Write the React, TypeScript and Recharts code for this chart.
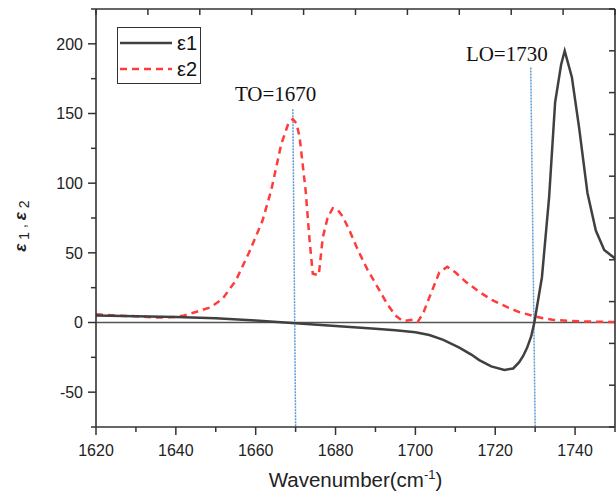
import React from "react";
import {
  LineChart, Line, XAxis, YAxis, ReferenceLine, ReferenceDot, Legend, Label,
} from "recharts";

const EPS1_X = [
  1620, 1630, 1640, 1650, 1660, 1670, 1680, 1690, 1695, 1700, 1703.5, 1707, 1711, 1714,
  1716, 1719, 1722.3, 1724.5, 1726, 1727, 1728, 1729, 1729.8, 1731.7, 1733.5, 1735,
  1736.5, 1737.4, 1739.2, 1741, 1743.1, 1745.2, 1747.3, 1750,
];
const EPS1_Y = [
  5, 4.5, 4, 3, 1.5, -0.5, -2.5, -4.5, -5.5, -7, -9, -12.5, -18, -23,
  -27, -31.5, -34, -33, -28.5, -24, -18, -10, 0, 32.5, 90, 158,
  185, 195, 176, 140, 93, 66, 52, 46,
];

// ε2 (imaginary part)
const EPS2_X = [
  1620, 1625, 1630, 1635, 1640, 1642, 1645, 1648.75, 1651.7, 1655, 1658.3, 1661.7, 1663.9,
  1666.4, 1668.2, 1669.3, 1670.2, 1671, 1672.5, 1673.5, 1674.3, 1675.8, 1676.8, 1678,
  1679.3, 1680.5, 1681.8, 1683.5, 1685.6, 1688, 1691, 1693, 1695, 1696.8, 1698, 1699.3,
  1700.6, 1702, 1703.5, 1706, 1708, 1710, 1712.7, 1716, 1719.3, 1723, 1726, 1729.8,
  1732, 1734.3, 1738, 1742, 1746, 1750,
];
const EPS2_Y = [
  6, 5, 4.5, 3.5, 4, 5, 7.5, 11, 17, 30, 50, 73, 95,
  128, 143, 146, 143, 133, 95, 59, 35, 34, 61, 75,
  82, 81, 76, 66, 52, 38, 23, 13, 5, 1, 1.5, 2,
  0.5, 7, 18, 36, 40, 36, 29, 22, 16, 11, 7.5, 4.5,
  3, 2, 1.2, 0.8, 0.5, 0.3,
];

const X_TICKS = [1620, 1640, 1660, 1680, 1700, 1720, 1740];
const X_MINOR = [1630, 1650, 1670, 1690, 1710, 1730, 1750];
const Y_TICKS = [-50, 0, 50, 100, 150, 200];
const Y_MINOR = [-75, -25, 25, 75, 125, 175, 225];
// top / right frame carry their own evenly spaced unlabelled ticks
const FRAME_TICKS = [0, 1, 2, 3, 4, 5, 6, 7, 8, 9, 10];

const TO_LINE = [{ x: 1669.3, y: 153 }, { x: 1670, y: -75 }];
const LO_LINE = [{ x: 1728.9, y: 183 }, { x: 1730, y: -75 }];

const eps1 = EPS1_X.map((x, i) => ({ x, y: EPS1_Y[i] }));
const eps2 = EPS2_X.map((x, i) => ({ x, y: EPS2_Y[i] }));
const frame = [{ t: 0, v: 0 }, { t: 10, v: 10 }];
const allX = [...X_TICKS, ...X_MINOR].sort((a, b) => a - b);
const allY = [...Y_TICKS, ...Y_MINOR].sort((a, b) => a - b);

const AXIS = "#333";
const SANS = "'Liberation Sans', Arial, sans-serif";
const SERIF = "'Liberation Serif', 'Times New Roman', serif";
const NO_LABEL = () => "";
const FRAME_LINE = { stroke: AXIS, strokeWidth: 1.6 };
const TICK_LINE = { stroke: AXIS, strokeWidth: 1.5 };

// tickSize/tickMargin are 0 on the main axes, so (x, y) is the spot on the frame
function XTick({ x, y, payload }: any) {
  const major = X_TICKS.includes(payload.value);
  return (
    <g>
      <line x1={x} x2={x} y1={y} y2={y + (major ? 8 : 5)} stroke={AXIS} strokeWidth={1.5} />
      {major && (
        <text x={x} y={y + 28.5} textAnchor="middle" fontFamily={SANS} fontSize={16} fill="#222">
          {payload.value}
        </text>
      )}
    </g>
  );
}

function YTick({ x, y, payload }: any) {
  const major = Y_TICKS.includes(payload.value);
  return (
    <g>
      <line x1={x - (major ? 8 : 5)} x2={x} y1={y} y2={y} stroke={AXIS} strokeWidth={1.5} />
      {major && (
        <text x={x - 13} y={y + 5.8} textAnchor="end" fontFamily={SANS} fontSize={16} fill="#222">
          {payload.value}
        </text>
      )}
    </g>
  );
}

function XTitle(props: any) {
  const vb = props.viewBox ?? { x: 96, y: 427, width: 519 };
  return (
    <text x={vb.x + vb.width / 2} y={vb.y + 60} textAnchor="middle" fontFamily={SANS} fontSize={20.5} fill="#222">
      Wavenumber(cm<tspan fontSize={13} dy={-8}>-1</tspan><tspan dy={8}>)</tspan>
    </text>
  );
}

function YTitle(props: any) {
  const vb = props.viewBox ?? { x: 0, y: 9, height: 418 };
  const x = vb.x + 26;
  const y = vb.y + 217;
  return (
    <text x={x} y={y} transform={`rotate(-90, ${x}, ${y})`} textAnchor="middle" fontFamily={SANS} fontSize={17} fill="#222">
      <tspan fontWeight="bold" fontStyle="italic">ε</tspan>
      <tspan fontSize={14} dy={3}>{"  1"}</tspan>
      <tspan fontSize={14} dy={-3}>{" ,  "}</tspan>
      <tspan fontWeight="bold" fontStyle="italic">ε</tspan>
      <tspan fontSize={14} dy={3}>{"  2"}</tspan>
    </text>
  );
}

function LegendBox() {
  const row = (dash: string | undefined, color: string, name: string) => (
    <div style={{ display: "flex", alignItems: "center", height: 26 }}>
      <svg width={52} height={6}>
        <line x1={0} y1={3} x2={52} y2={3} stroke={color} strokeWidth={2.5} strokeDasharray={dash} />
      </svg>
      <span style={{ marginLeft: 5, fontFamily: SANS, fontSize: 20, color: "#111", lineHeight: "20px" }}>{name}</span>
    </div>
  );
  return (
    <div style={{ border: `1px solid ${AXIS}`, background: "#fff", width: 84, height: 57, boxSizing: "border-box", padding: "2px 2px" }}>
      {row(undefined, "#404040", "ε1")}
      {row("7 5", "#ff3b3b", "ε2")}
    </div>
  );
}

function TextLabel(text: string) {
  return (props: any) => {
    const vb = props.viewBox ?? { x: 0, y: 0 };
    return (
      <text x={vb.x} y={vb.y} textAnchor="middle" fontFamily={SERIF} fontSize={21} fill="#111">
        {text}
      </text>
    );
  };
}

export default function App() {
  return (
    <div style={{ position: "absolute", left: 0, top: 0, background: "#fff" }}>
      <LineChart width={616} height={495} margin={{ top: 8, right: 0, bottom: 0, left: 0 }}>
        <XAxis xAxisId="main" type="number" dataKey="x" domain={[1620, 1750]} ticks={allX}
          allowDataOverflow interval={0} height={68} tickSize={0} tickMargin={0} tick={<XTick />}
          axisLine={FRAME_LINE} tickLine={false}
          label={<Label content={XTitle} />} />
        <XAxis xAxisId="top" orientation="top" type="number" dataKey="t" domain={[0, 10]} ticks={FRAME_TICKS}
          allowDataOverflow interval={0} height={1} tickSize={-6} tickFormatter={NO_LABEL}
          axisLine={FRAME_LINE} tickLine={TICK_LINE} />
        <YAxis yAxisId="main" type="number" domain={[-75, 225]} ticks={allY} allowDataOverflow
          interval={0} width={96} tickSize={0} tickMargin={0} tick={<YTick />}
          axisLine={FRAME_LINE} tickLine={false}
          label={<Label content={YTitle} />} />
        <YAxis yAxisId="right" orientation="right" type="number" domain={[0, 10]} ticks={FRAME_TICKS}
          allowDataOverflow interval={0} width={1} tickSize={-6} tickFormatter={NO_LABEL}
          axisLine={FRAME_LINE} tickLine={TICK_LINE} />

        <ReferenceLine xAxisId="main" yAxisId="main" y={0} stroke="#555" strokeWidth={1.5} />
        <ReferenceLine xAxisId="main" yAxisId="main" segment={TO_LINE} stroke="#5b9bd5" strokeWidth={1.5} strokeDasharray="2 1" />
        <ReferenceLine xAxisId="main" yAxisId="main" segment={LO_LINE} stroke="#5b9bd5" strokeWidth={1.5} strokeDasharray="2 1" />

        {/* invisible series so the top/right frame axes get a scale */}
        <Line xAxisId="top" yAxisId="right" data={frame} dataKey="v" stroke="none" dot={false}
          activeDot={false} legendType="none" isAnimationActive={false} />

        <Line xAxisId="main" yAxisId="main" data={eps2} dataKey="y" name="ε2" type="linear"
          stroke="#ff3b3b" strokeWidth={2.5} strokeDasharray="7 5" dot={false} isAnimationActive={false} />
        <Line xAxisId="main" yAxisId="main" data={eps1} dataKey="y" name="ε1" type="linear"
          stroke="#404040" strokeWidth={2.5} dot={false} isAnimationActive={false} />

        <ReferenceDot xAxisId="main" yAxisId="main" x={1665} y={159} r={0} fill="none" stroke="none"
          label={<Label content={TextLabel("TO=1670")} />} />
        <ReferenceDot xAxisId="main" yAxisId="main" x={1722.9} y={187.5} r={0} fill="none" stroke="none"
          label={<Label content={TextLabel("LO=1730")} />} />

        <Legend layout="vertical" align="center" verticalAlign="middle" content={<LegendBox />}
          wrapperStyle={{ position: "absolute", left: 117, top: 27, width: "auto" }} />
      </LineChart>
    </div>
  );
}
